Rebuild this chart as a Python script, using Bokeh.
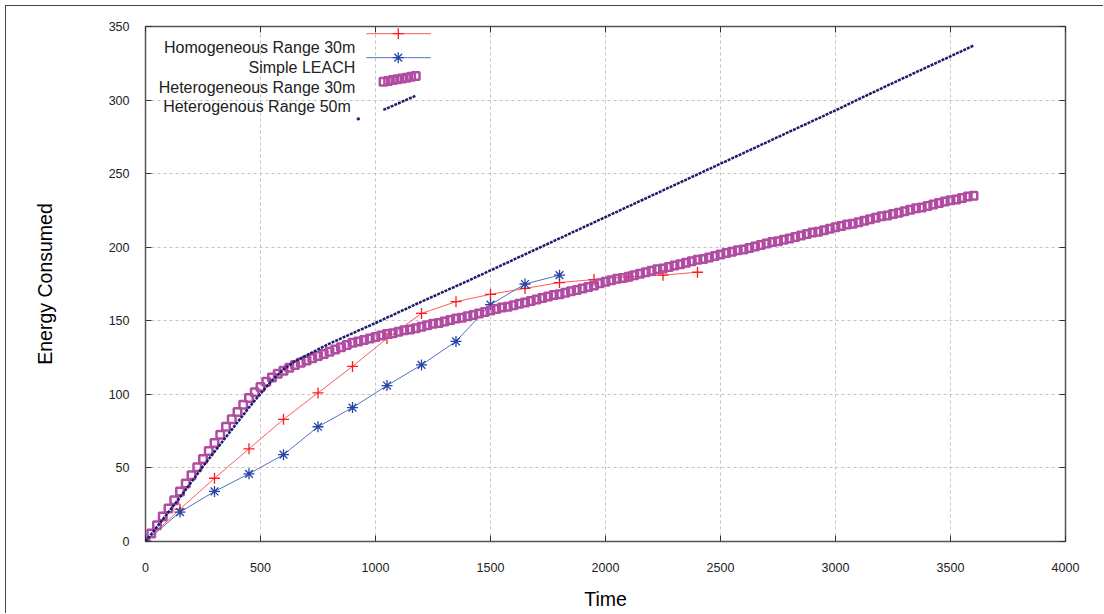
from bokeh.plotting import figure
from bokeh.models import LinearAxis, FixedTicker, Label, Range1d
from bokeh.embed import file_html
from bokeh.resources import INLINE

# ---------------- data ----------------
homog_x = [0, 150, 300, 450, 600, 750, 900, 1050, 1200, 1350, 1500, 1650, 1800, 1950, 2100, 2250, 2400]
homog_y = [0, 22, 43, 63, 83, 101, 119, 138, 155, 163, 168, 172, 176, 178, 180, 181, 183]

leach_x = [0, 150, 300, 450, 600, 750, 900, 1050, 1200, 1350, 1500, 1650, 1800]
leach_y = [0, 20, 34, 46, 59, 78, 91, 106, 120, 136, 161, 175, 181]

het30_x = [0, 25, 50, 75, 100, 125, 150, 175, 200, 225, 250, 275, 300, 325, 350, 375, 400, 425, 450, 475,
           500, 525, 550, 575, 600, 625, 650, 675, 700, 725, 750, 775, 800, 825, 850, 875, 900, 925, 950, 975,
           1000, 1025, 1050, 1075, 1100, 1125, 1150, 1175, 1200, 1225, 1250, 1275, 1300, 1325, 1350, 1375,
           1400, 1425, 1450, 1475, 1500, 1525, 1550, 1575, 1600, 1625, 1650, 1675, 1700, 1725, 1750, 1775,
           1800, 1825, 1850, 1875, 1900, 1925, 1950, 1975, 2000, 2025, 2050, 2075, 2100, 2125, 2150, 2175,
           2200, 2225, 2250, 2275, 2300, 2325, 2350, 2375, 2400, 2425, 2450, 2475, 2500, 2525, 2550, 2575,
           2600, 2625, 2650, 2675, 2700, 2725, 2750, 2775, 2800, 2825, 2850, 2875, 2900, 2925, 2950, 2975,
           3000, 3025, 3050, 3075, 3100, 3125, 3150, 3175, 3200, 3225, 3250, 3275, 3300, 3325, 3350, 3375,
           3400, 3425, 3450, 3475, 3500, 3525, 3550, 3575, 3600]
het30_y = [0, 5.5, 11, 17, 22.5, 28, 34, 39.5, 45, 50.5, 56, 61.5, 67, 72.5, 78, 83, 88, 93, 97.5, 101.5,
           105, 108.5, 111.5, 114, 116, 118, 120, 121.5, 123, 124.5, 126, 127.5, 129, 130.5, 132, 133.5, 135, 136, 137, 138,
           139, 140, 141, 141.5, 142.5, 143.5, 144, 145, 146, 147, 148, 148.5, 149.5, 150.5, 151.5, 152,
           153, 154, 155, 156, 157, 158, 159, 159.5, 160.5, 161.5, 162.5, 163.5, 164.5, 165.5, 166.5, 167.5,
           168, 169, 170, 171, 172, 173, 174, 175.5, 176.5, 177.5, 178.5, 179, 180, 181, 182, 183,
           184, 185, 185.5, 186.5, 187.5, 188.5, 189.5, 190.5, 191.5, 192, 193, 194, 195, 196, 197, 198,
           198.5, 199.5, 200.5, 201.5, 202.5, 203.5, 204, 205, 206, 207, 208, 209, 210, 210.5, 211.5, 212.5,
           213.5, 214.5, 215.5, 216, 217, 218, 219, 220, 221, 221.5, 222.5, 223.5, 224.5, 225.5, 226.5, 227,
           228, 229, 230, 231, 232, 232.5, 233.5, 234.5, 235]

het50_x = [0, 50, 100, 150, 200, 250, 300, 350, 400, 450, 500, 550, 600, 650, 700, 750, 800, 900, 1000,
           1200, 1400, 1600, 1800, 2000, 2200, 2400, 2600, 2800, 3000, 3200, 3400, 3600]
het50_y = [0, 10, 20, 30, 40.5, 51, 61, 71, 81, 91, 100.5, 109.5, 117, 122.5, 126.5, 130.5, 134.5, 141.5, 148.5,
           163, 177, 191.5, 206, 220.5, 235, 249.5, 264, 278.5, 293, 308, 322.5, 337]

x_ticks = [0, 500, 1000, 1500, 2000, 2500, 3000, 3500, 4000]
y_ticks = [0, 50, 100, 150, 200, 250, 300, 350]

labels = ["Homogeneous Range 30m", "Simple LEACH", "Heterogeneous Range 30m", "Heterogenous  Range 50m"]

# ---------------- styles ----------------
RED_M, RED_L = "#ff1a1a", "#ff5a5a"
BLUE_M, BLUE_L = "#2546a6", "#5272c4"
MAG = "#b14ca3"
NAVY = "#1c1c6c"
FONT = "Liberation Sans"

p = figure(width=1098, height=608, output_backend="svg", toolbar_location=None,
           x_range=Range1d(0, 4000), y_range=Range1d(0, 350),
           min_border_left=139, min_border_right=39, min_border_top=20, min_border_bottom=73,
           background_fill_color="white", border_fill_color="white")
p.styles = {"margin-left": "5px", "margin-top": "5px", "margin-bottom": "-12px",
            "border-left": "1px solid #444", "border-top": "1px solid #444"}

p.outline_line_color = "#555555"
p.outline_line_width = 1.5

for ax in (p.xaxis[0], p.yaxis[0]):
    ax.axis_line_color = None
    ax.major_tick_in = 6
    ax.major_tick_out = 0
    ax.minor_tick_line_color = None
    ax.major_tick_line_color = "#333333"
    ax.major_label_text_font = FONT
    ax.major_label_text_font_size = "12.5px"
    ax.major_label_text_color = "#222222"
    ax.axis_label_text_font = FONT
    ax.axis_label_text_font_size = "19.5px"
    ax.axis_label_text_font_style = "normal"
    ax.axis_label_text_color = "#000000"

p.xaxis[0].ticker = FixedTicker(ticks=x_ticks)
p.yaxis[0].ticker = FixedTicker(ticks=y_ticks)
p.xaxis[0].axis_label = "Time"
p.yaxis[0].axis_label = "Energy Consumed"
p.xaxis[0].major_label_standoff = 21
p.xaxis[0].axis_label_standoff = 13
p.yaxis[0].major_label_standoff = 16
p.yaxis[0].axis_label_standoff = 50

# mirrored ticks on top and right
top = LinearAxis(ticker=FixedTicker(ticks=x_ticks))
right = LinearAxis(ticker=FixedTicker(ticks=y_ticks))
for ax in (top, right):
    ax.axis_line_color = None
    ax.major_tick_in = 6
    ax.major_tick_out = 0
    ax.minor_tick_line_color = None
    ax.major_tick_line_color = "#333333"
    ax.major_label_text_color = None
    ax.major_label_text_font_size = "1px"
    ax.major_label_standoff = 0
p.add_layout(top, "above")
p.add_layout(right, "right")

for g in (p.xgrid[0], p.ygrid[0]):
    g.grid_line_color = "#c4c4c4"
    g.grid_line_dash = "3 3"
    g.grid_line_width = 1
p.xgrid[0].ticker = FixedTicker(ticks=x_ticks)
p.ygrid[0].ticker = FixedTicker(ticks=y_ticks)

# ---------------- series ----------------
p.line(homog_x, homog_y, line_color=RED_L, line_width=1)
p.scatter(homog_x, homog_y, marker="cross", size=11, line_color=RED_M, line_width=1.3)

p.line(leach_x, leach_y, line_color=BLUE_L, line_width=1)
p.scatter(leach_x, leach_y, marker="asterisk", size=11, line_color=BLUE_M, line_width=1.3)

p.scatter(het30_x, het30_y, marker="square", size=7.5, fill_color=None, line_color=MAG, line_width=2.5)

p.line(het50_x, het50_y, line_color=NAVY, line_width=2.5, line_dash="3 1")

# ---------------- legend (manual, gnuplot style: text right-aligned, sample on right) ----------------
LEG_TEXT_X = 912
LEG_TEXT_Y = [335.6, 322.0, 308.5, 295.3]
for lab, ty in zip(labels, LEG_TEXT_Y):
    p.add_layout(Label(x=LEG_TEXT_X, y=ty, text=lab, text_align="right", text_baseline="alphabetic",
                       text_font=FONT, text_font_size="16px", text_color="#222222"))

S_X0, S_X1, S_XM = 960, 1241, 1099
p.line([S_X0, S_X1], [345.1, 345.1], line_color=RED_L, line_width=1)
p.scatter([S_XM], [345.1], marker="cross", size=11, line_color=RED_M, line_width=1.3)
p.line([S_X0, S_X1], [328.8, 328.8], line_color=BLUE_L, line_width=1)
p.scatter([S_XM], [328.8], marker="asterisk", size=11, line_color=BLUE_M, line_width=1.3)
leg_sq_x = [1035, 1055, 1075, 1095, 1115, 1135, 1155, 1175]
leg_sq_y = [312.5, 313.0, 313.6, 314.1, 314.7, 315.2, 315.8, 316.3]
p.scatter(leg_sq_x, leg_sq_y, marker="square", size=7.5, fill_color=None, line_color=MAG, line_width=2.5)
p.line([1034, 1173], [293.3, 302.8], line_color=NAVY, line_width=2.5, line_dash="3 1")
p.scatter([925], [287.2], marker="square", size=2, fill_color=NAVY, line_color=NAVY)

open("out.html", "w").write(file_html(p, INLINE))
